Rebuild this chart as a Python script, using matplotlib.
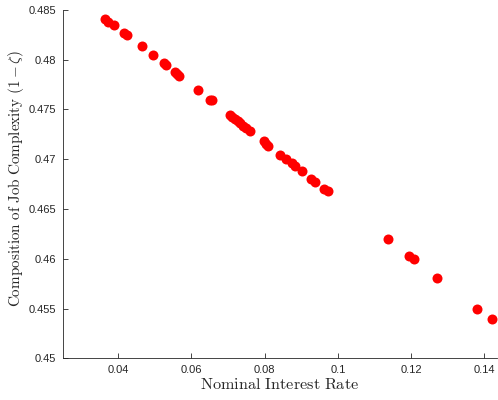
import matplotlib
matplotlib.use("Agg")
import matplotlib.pyplot as plt

# nominal interest rate vs composition of job complexity (1 - zeta)
rate = [0.0364, 0.0373, 0.0389, 0.0416, 0.0425, 0.0464, 0.0495, 0.0524, 0.0530,
        0.0556, 0.0561, 0.0567, 0.0619, 0.0652, 0.0655, 0.0704, 0.0711, 0.0719,
        0.0726, 0.0733, 0.0742, 0.0750, 0.0761, 0.0797, 0.0804, 0.0810, 0.0842,
        0.0858, 0.0875, 0.0882, 0.0903, 0.0927, 0.0938, 0.0963, 0.0972, 0.1138,
        0.1194, 0.1207, 0.1272, 0.1380, 0.1420]
complexity = [0.48406, 0.48379, 0.48346, 0.48269, 0.48243, 0.48135, 0.48047, 0.47967,
              0.47947, 0.47873, 0.47858, 0.47840, 0.47694, 0.47599, 0.47590, 0.47448,
              0.47424, 0.47401, 0.47381, 0.47360, 0.47333, 0.47310, 0.47283, 0.47180,
              0.47155, 0.47134, 0.47042, 0.47004, 0.46961, 0.46931, 0.46878, 0.46802,
              0.46770, 0.46700, 0.46677, 0.46194, 0.46033, 0.45998, 0.45809, 0.45500,
              0.45392]

xticks = [0.04, 0.06, 0.08, 0.1, 0.12, 0.14]
xticklabels = ["0.04", "0.06", "0.08", "0.1", "0.12", "0.14"]
yticks = [0.45, 0.455, 0.46, 0.465, 0.47, 0.475, 0.48, 0.485]
yticklabels = ["0.45", "0.455", "0.46", "0.465", "0.47", "0.475", "0.48", "0.485"]

plt.rcParams["mathtext.fontset"] = "cm"
plt.rcParams["font.family"] = ["Liberation Sans", "DejaVu Sans"]

axcol = (0.15, 0.15, 0.15)
fig = plt.figure(figsize=(4.98, 4.0), dpi=100)
ax = fig.add_axes([0.1265, 0.104, 0.8715, 0.8715])
ax.plot(rate, complexity, "o", color="red", markersize=7.2, markeredgewidth=0)

ax.set_xlim(0.0249, 0.1435)
ax.set_ylim(0.45, 0.485)
ax.set_xticks(xticks)
ax.set_xticklabels(xticklabels)
ax.set_yticks(yticks)
ax.set_yticklabels(yticklabels)
ax.tick_params(direction="in", length=3.5, width=0.6, labelsize=8,
               colors=axcol, pad=5)
ax.spines["top"].set_visible(False)
ax.spines["right"].set_visible(False)
for s in ["left", "bottom"]:
    ax.spines[s].set_color(axcol)
    ax.spines[s].set_linewidth(0.6)

ax.set_xlabel(r"$\mathrm{Nominal\ Interest\ Rate}$", fontsize=11.7, color=axcol, labelpad=1)
ax.set_ylabel(r"$\mathrm{Composition\ of\ Job\ Complexity}\ (1-\zeta)$", fontsize=10.9,
              color=axcol, va="center")
ax.yaxis.set_label_coords(-0.108, 0.517)

fig.savefig("out.png", dpi=100)
